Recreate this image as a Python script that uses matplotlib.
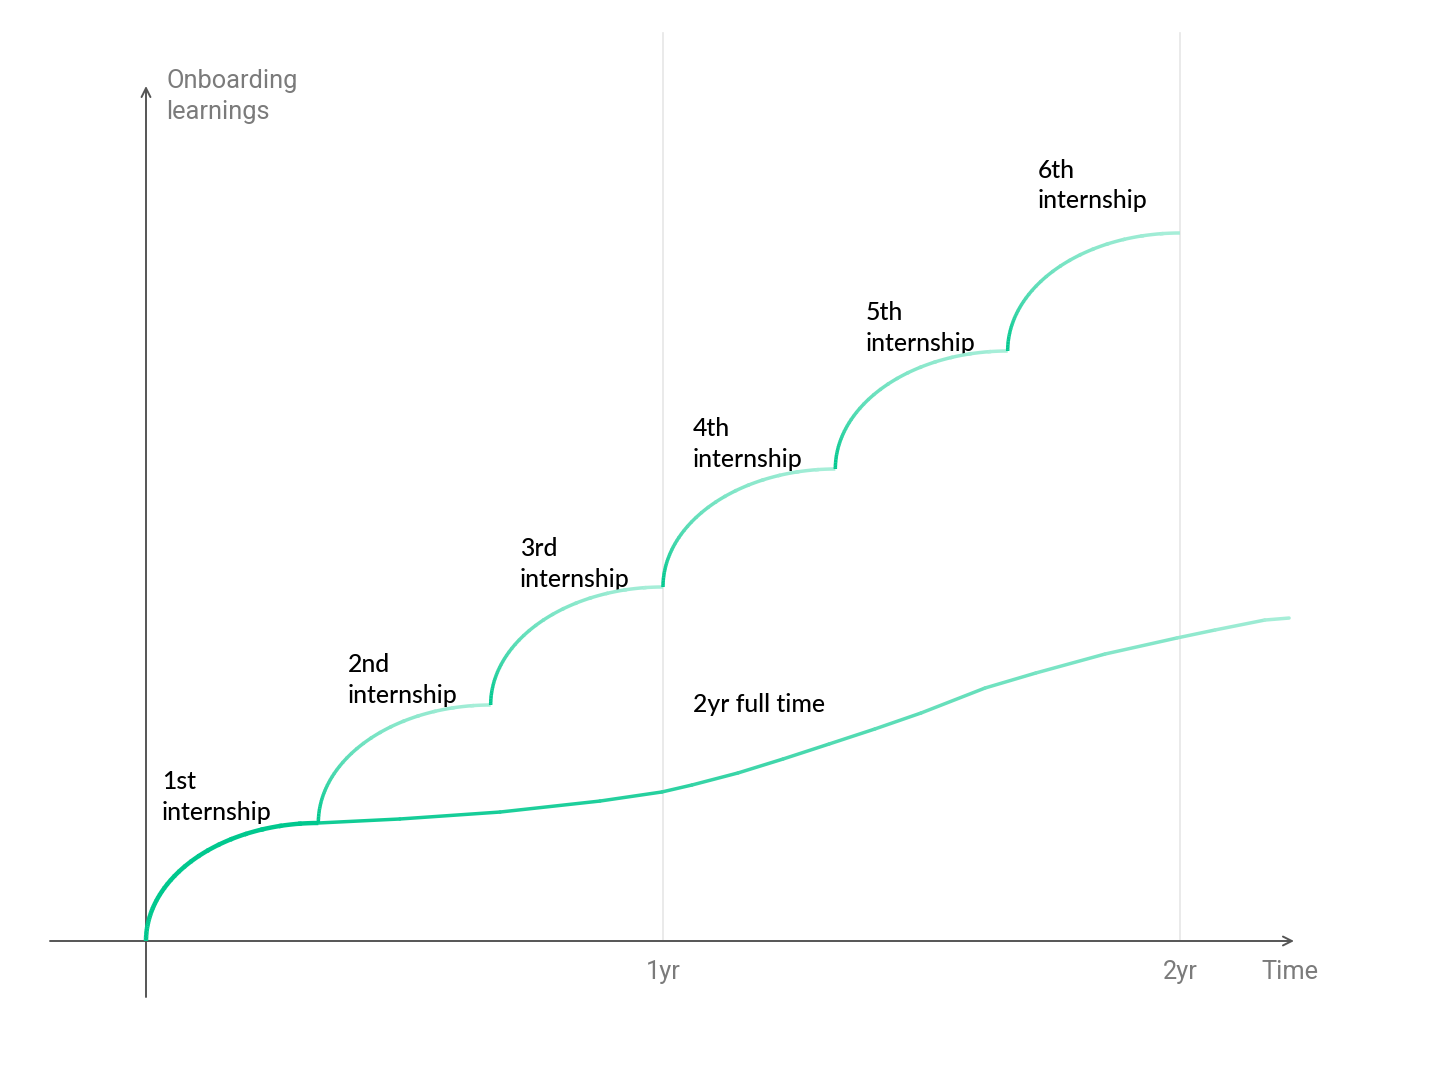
import matplotlib
matplotlib.use("Agg")
import matplotlib.pyplot as plt
from matplotlib.patches import Arc
from matplotlib.collections import LineCollection
from matplotlib.colors import to_rgb
import numpy as np

# ---- data (x in years, y in "steps" of onboarding learnings) ----
intern_starts = [0.0, 1/3, 2/3, 1.0, 4/3, 5/3]
intern_levels = [0, 1, 2, 3, 4, 5]
intern_len = 1/3
intern_gain = 1.0
intern_labels = ["1st\ninternship", "2nd\ninternship", "3rd\ninternship",
                 "4th\ninternship", "5th\ninternship", "6th\ninternship"]
label_x = [0.031, 0.39, 0.723, 1.058, 1.391, 1.725]
label_y = [1.45, 2.44, 3.42, 4.44, 5.42, 6.63]

ft_x = [0.333, 0.491, 0.685, 0.878, 0.998, 1.056, 1.145, 1.232, 1.321,
        1.410, 1.499, 1.623, 1.721, 1.855, 1.994, 2.068, 2.164, 2.211]
ft_y = [1.000, 1.034, 1.093, 1.186, 1.263, 1.322, 1.424, 1.542, 1.669,
        1.797, 1.932, 2.144, 2.271, 2.432, 2.568, 2.636, 2.720, 2.737]

year_ticks = [1, 2]
year_labels = ["1yr", "2yr"]

STRONG = to_rgb("#00c88e")
PALE = to_rgb("#a6eed8")

def mix(t):
    return tuple(STRONG[i] + (PALE[i] - STRONG[i]) * t for i in range(3))

fig = plt.figure(figsize=(14.56, 10.8), dpi=100)
ax = fig.add_axes([0, 0, 1, 1])
ax.set_xlim(-146/517, (1456-146)/517)
ax.set_ylim((941-1080)/118, 941/118)
ax.axis("off")

# grid lines at 1yr / 2yr
for t in year_ticks:
    ax.plot([t, t], [0, (941-33)/118], color="#e6e6e6", lw=1.2, zorder=1)

# axes with arrows
axis_col = "#555555"
ax.annotate("", xy=((1294-146)/517, 0), xytext=((50-146)/517, 0),
            arrowprops=dict(arrowstyle="->", color=axis_col, lw=1.4,
                            shrinkA=0, shrinkB=0, mutation_scale=16), zorder=2)
ax.annotate("", xy=(0, (941-86)/118), xytext=(0, (941-997)/118),
            arrowprops=dict(arrowstyle="->", color=axis_col, lw=1.4,
                            shrinkA=0, shrinkB=0, mutation_scale=16), zorder=2)

# full time line (gradient)
pts = np.column_stack([ft_x, ft_y])
segs = np.stack([pts[:-1], pts[1:]], axis=1)
n = len(segs)
cols = [mix(min(1.0, 0.1 + 0.9 * (i / (n - 1)) ** 1.2)) for i in range(n)]
lc = LineCollection(segs, colors=cols, linewidths=2.5, capstyle="round",
                    joinstyle="round", zorder=3)
ax.add_collection(lc)

# internship arcs (quarter ellipses, gradient from strong to pale)
pieces = 40
for k, (x0, lvl) in enumerate(zip(intern_starts, intern_levels)):
    cx = x0 + intern_len
    cy = lvl
    for j in range(pieces):
        th2 = 180 - 90 * j / pieces
        th1 = 180 - 90 * (j + 1) / pieces - 0.4
        if k == 0:
            c = STRONG
            lw = 3.2
        else:
            c = mix((j / (pieces - 1)) ** 1.6)
            lw = 2.5
        arc = Arc((cx, cy), 2 * intern_len, 2 * intern_gain, theta1=max(th1, 90),
                  theta2=th2, color=c, lw=lw, zorder=4)
        ax.add_patch(arc)

# labels
lab_font = dict(family="Lato", fontsize=17.8, color="black", fontweight="medium")
for txt, lx, ly in zip(intern_labels, label_x, label_y):
    ax.text(lx, ly, txt, ha="left", va="top", linespacing=1.4, **lab_font)
ax.text(1.058, 2.10, "2yr full time", ha="left", va="top", **lab_font)

gray_font = dict(family="Roboto", fontsize=18.3, color="#7b7b7b")
ax.text((166-146)/517, (941-69)/118, "Onboarding\nlearnings", ha="left", va="top",
        linespacing=1.35, **gray_font)
for t, lab in zip(year_ticks, year_labels):
    ax.text(t, (941-960)/118, lab, ha="center", va="top", **gray_font)
ax.text((1290-146)/517, (941-960)/118, "Time", ha="center", va="top", **gray_font)

fig.savefig("out.png", dpi=100, facecolor="white")
